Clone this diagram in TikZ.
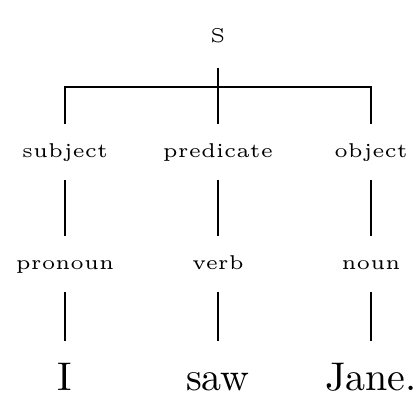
\documentclass[tikz,border=0pt]{standalone}
\begin{document}
\begin{tikzpicture}[x=0.25pt,y=-0.25pt,
  lbl/.style={font=\tiny, inner sep=0pt, text height=3.5pt, text depth=1pt, minimum height=13.5pt},
  rootlbl/.style={lbl, minimum height=15pt},
  word/.style={font=\normalsize, inner sep=0pt, text height=7pt, text depth=2pt, minimum height=19pt},
  every path/.style={line width=0.4pt}]
\useasboundingbox (0,0) rectangle (420,420);
\node[rootlbl] (S) at (218,37) {S};
\node[lbl] (subject) at (65,152) {subject};
\node[lbl] (predicate) at (218,152) {predicate};
\node[lbl] (object) at (371,152) {object};
\node[lbl] (pronoun) at (65,264) {pronoun};
\node[lbl] (verb) at (218,264) {verb};
\node[lbl] (noun) at (371,264) {noun};
\node[word] (I) at (65,380) {I};
\node[word] (saw) at (218,380) {saw};
\node[word] (Jane) at (371,380) {Jane.};
\coordinate (bar) at (218,87);
\draw (S) -- (predicate);
\draw (subject) |- (bar) -| (object);
\draw (subject) -- (pronoun);
\draw (predicate) -- (verb);
\draw (object) -- (noun);
\draw (pronoun) -- (I);
\draw (verb) -- (saw);
\draw (noun) -- (Jane);
\end{tikzpicture}
\end{document}
